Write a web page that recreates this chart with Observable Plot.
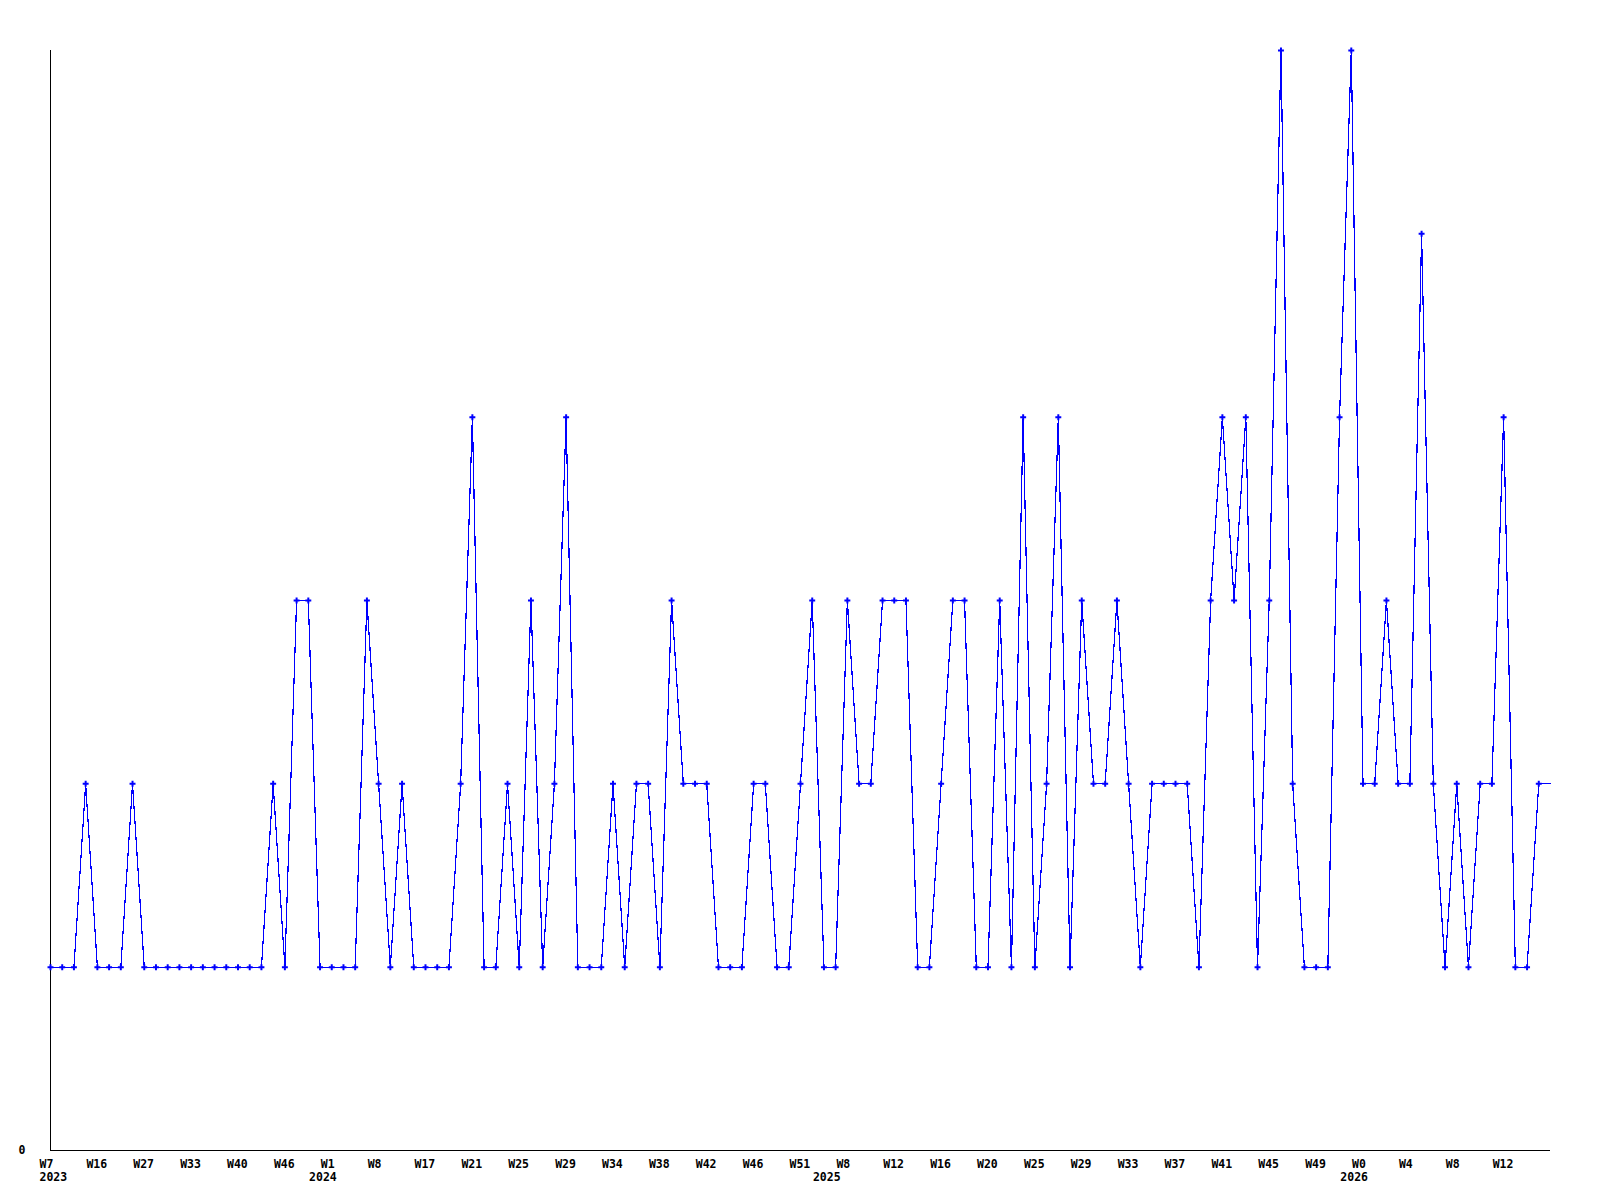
<!DOCTYPE html>
<html>
<head>
<meta charset="utf-8">
<script src="https://cdn.jsdelivr.net/npm/d3@7"></script>
<script src="https://cdn.jsdelivr.net/npm/@observablehq/plot@0.6"></script>
<style>
  html, body { margin: 0; padding: 0; background: #ffffff; }
</style>
</head>
<body>
<div id="chart"></div>
<script>
// Weekly counts, one point per week with data (categorical, evenly spaced)
const values = [
  1,1,1,2,1,1,1,2,1,1,
  1,1,1,1,1,1,1,1,1,2,
  1,3,3,1,1,1,1,3,2,1,
  2,1,1,1,1,2,4,1,1,2,
  1,3,1,2,4,1,1,1,2,1,
  2,2,1,3,2,2,2,1,1,1,
  2,2,1,1,2,3,1,1,3,2,
  2,3,3,3,1,1,2,3,3,1,
  1,3,1,4,1,2,4,1,3,2,
  2,3,2,1,2,2,2,2,1,3,
  4,3,4,1,3,6,2,1,1,1,
  4,6,2,2,3,2,2,5,2,1,
  2,1,2,2,4,1,1,2,2
];

// Week tick labels (every 4th point)
const weekLabels = [
  "W7","W16","W27","W33","W40","W46","W1","W8","W17","W21","W25",
  "W29","W34","W38","W42","W46","W51","W8","W12","W16","W20","W25",
  "W29","W33","W37","W41","W45","W49","W0","W4","W8","W12"
];

// Year labels and the index of the first point of each year
const years = ["2023","2024","2025","2026"];
const yearStartIndex = [0, 23, 66, 111];

const yMax = 6;

const data = values.map((v, i) => ({ i, v }));
const weekTicks = weekLabels.map((_, k) => k * 4);

const chart = Plot.plot({
  width: 1600,
  height: 1200,
  marginLeft: 50,
  marginRight: 50,
  marginTop: 50,
  marginBottom: 50,
  x: { type: "linear", domain: [0, values.length - 1], axis: null, label: null },
  y: { type: "linear", domain: [0, yMax], axis: null, label: null },
  style: {
    fontFamily: "'DejaVu Sans Mono', monospace",
    fontSize: "11.5px",
    fontWeight: "bold",
    background: "#ffffff",
    color: "#000000"
  },
  marks: [
    Plot.ruleX([0], { stroke: "#000000", strokeWidth: 1, shapeRendering: "crispEdges" }),
    Plot.ruleY([0], { stroke: "#000000", strokeWidth: 1, shapeRendering: "crispEdges" }),
    Plot.line(data, {
      x: "i", y: "v",
      stroke: "#0000ff", strokeWidth: 1.2,
      shapeRendering: "crispEdges"
    }),
    Plot.dot(data.slice(0, -1), {
      x: "i", y: "v",
      symbol: "cross", r: 2.5,
      fill: "#0000ff", stroke: null
    }),
    Plot.axisX({
      ticks: weekTicks,
      tickFormat: d => weekLabels[d / 4],
      tickSize: 0,
      tickPadding: 9,
      textAnchor: "start",
      dx: -11,
      fill: "#000000",
      label: null
    }),
    Plot.axisX({
      ticks: yearStartIndex,
      tickFormat: d => years[yearStartIndex.indexOf(d)],
      tickSize: 0,
      tickPadding: 22,
      textAnchor: "start",
      dx: -11,
      fill: "#000000",
      label: null
    }),
    Plot.axisY({
      ticks: [0],
      tickFormat: d => String(d),
      tickSize: 0,
      tickPadding: 25,
      fill: "#000000",
      label: null
    })
  ]
});

document.getElementById("chart").appendChild(chart);
</script>
</body>
</html>
